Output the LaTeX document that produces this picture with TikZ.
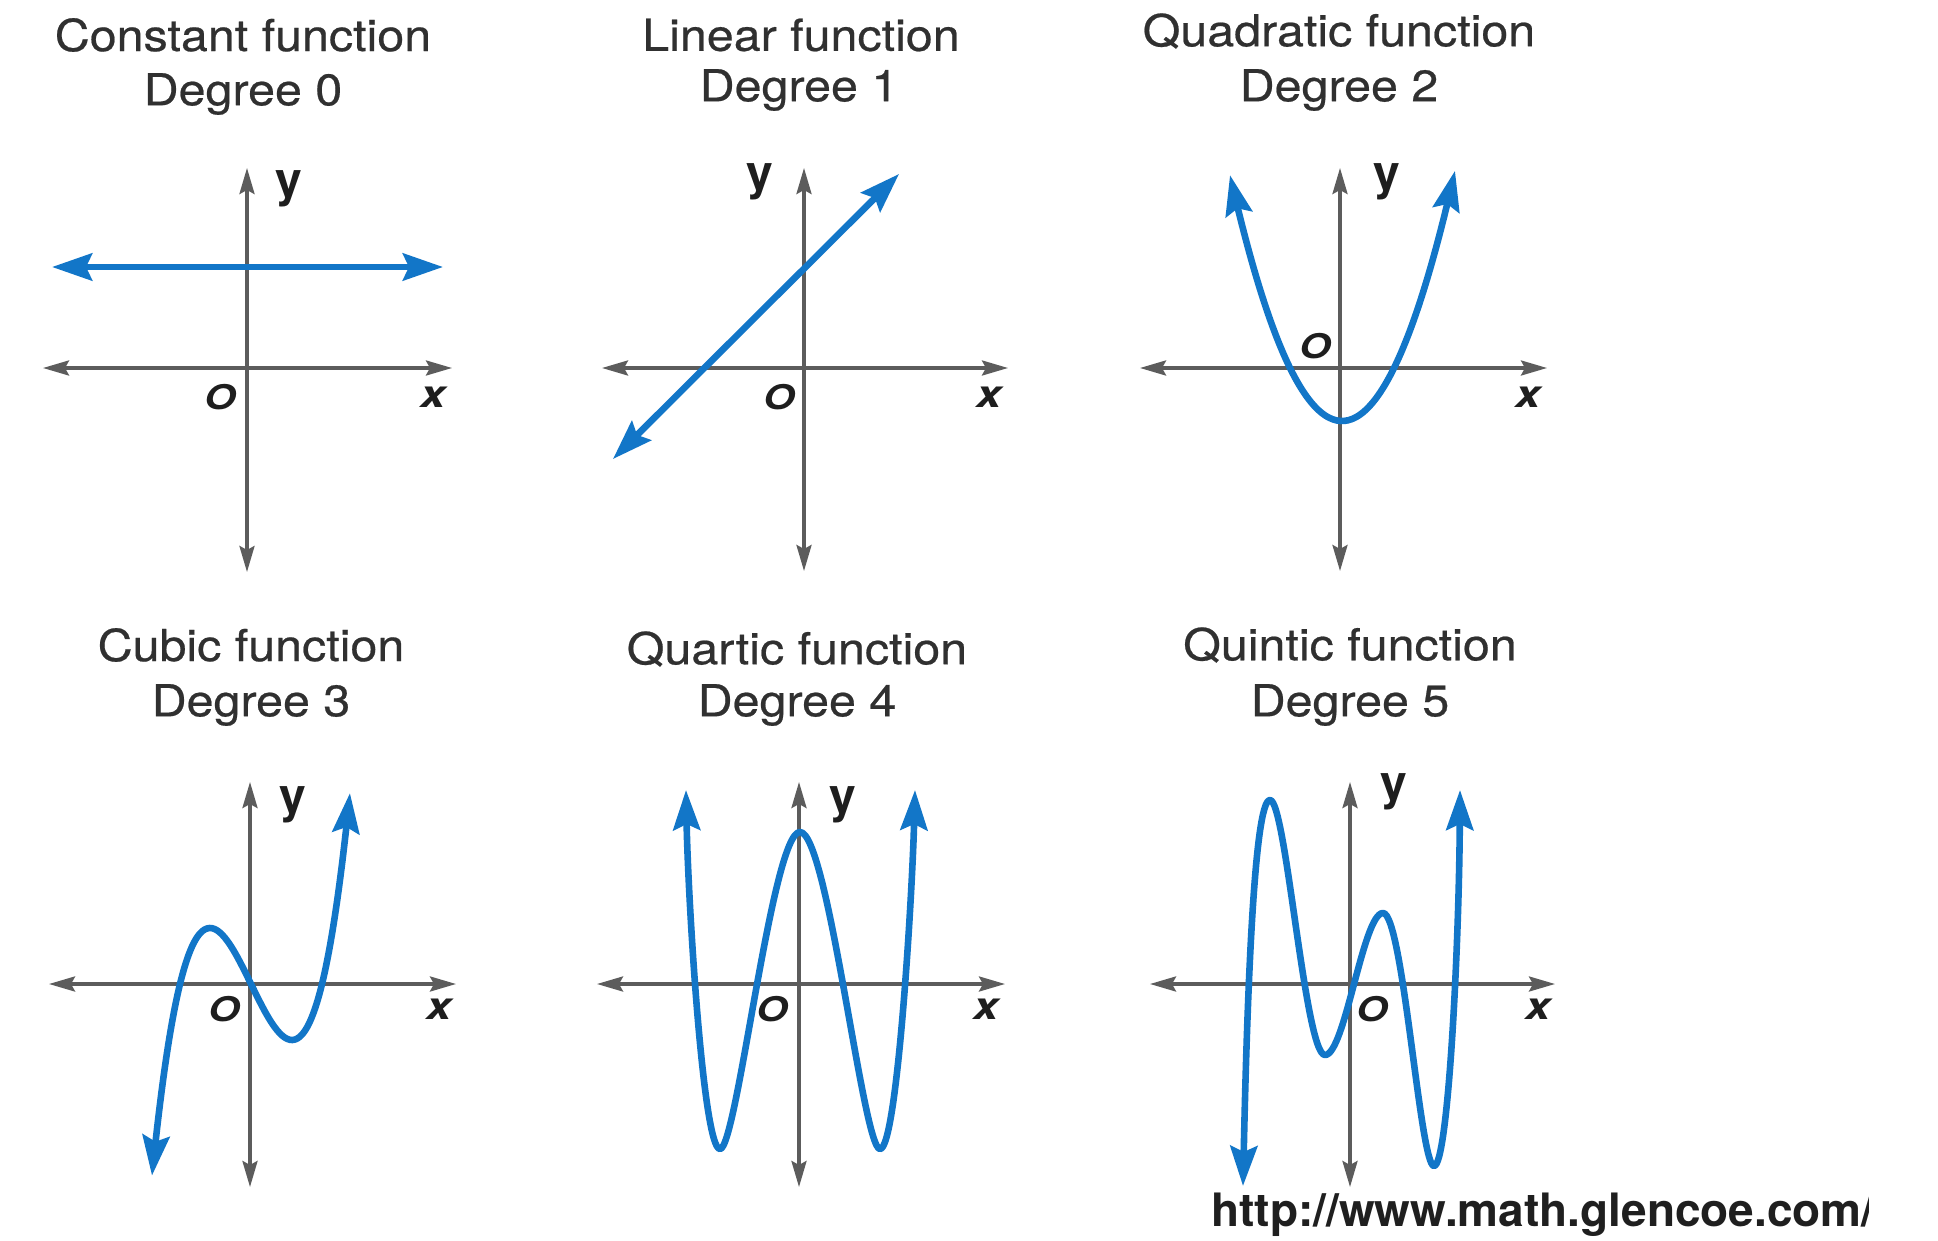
\documentclass[tikz,border=0pt]{standalone}
\usepackage{fontspec}
\setmainfont{TeX Gyre Heros}
\newfontfamily\titlefont{TeX Gyre Heros}[FakeStretch=1.1,FakeBold=0.5]
\newfontfamily\lblfont{TeX Gyre Heros}[FakeStretch=1.2]
\usetikzlibrary{arrows.meta}
\definecolor{curveblue}{RGB}{18,118,200}
\definecolor{axisgray}{RGB}{92,92,92}
\definecolor{textgray}{RGB}{48,48,48}
\definecolor{lblgray}{RGB}{30,30,30}
\begin{document}
\begin{tikzpicture}[x=0.5pt,y=-0.5pt,
  axis/.style={draw=axisgray,line width=1.7pt,
    {Stealth[length=13pt,width=7.5pt,inset=2pt]}-{Stealth[length=13pt,width=7.5pt,inset=2pt]}},
  curve/.style={draw=curveblue,line width=3.3pt,line join=round,
    {Stealth[length=20pt,width=13.5pt,inset=3pt]}-{Stealth[length=20pt,width=13.5pt,inset=3pt]}},
  ttl/.style={font=\titlefont\fontsize{22}{26}\selectfont,text=textgray,inner sep=0pt},
  ylbl/.style={font=\bfseries\fontsize{24}{28}\selectfont,text=lblgray,inner sep=0pt},
  olbl/.style={font=\lblfont\bfseries\itshape\fontsize{17}{20}\selectfont,text=lblgray,inner sep=0pt},
  xlbl/.style={font=\lblfont\bfseries\itshape\fontsize{19}{22}\selectfont,text=lblgray,inner sep=0pt},
  url/.style={font=\bfseries\fontsize{23}{26}\selectfont,text=black!88,inner sep=0pt}
]
\fill[white] (0,0) rectangle (1938,1241);
\useasboundingbox (0,0) rectangle (1938,1241);

% ---------- titles ----------
\node[ttl] (t1a) at (243,35) {Constant function};
\node[ttl] (t1b) at (243,94) {Degree 0};
\node[ttl] (t2a) at (801,35) {Linear function};
\node[ttl] (t2b) at (799,90) {Degree 1};
\node[ttl] (t3a) at (1339,31) {Quadratic function};
\node[ttl] (t3b) at (1339,90) {Degree 2};
\node[ttl] (t4a) at (251,645) {Cubic function};
\node[ttl] (t4b) at (251,705) {Degree 3};
\node[ttl] (t5a) at (797,649) {Quartic function};
\node[ttl] (t5b) at (797,705) {Degree 4};
\node[ttl] (t6a) at (1350,645) {Quintic function};
\node[ttl] (t6b) at (1350,705) {Degree 5};

% ---------- axes ----------
\coordinate (x1l) at (43,368);  \coordinate (x1r) at (452,368);
\coordinate (y1t) at (247,168); \coordinate (y1b) at (247,572);
\coordinate (x2l) at (602,368); \coordinate (x2r) at (1008,368);
\coordinate (y2t) at (804,168); \coordinate (y2b) at (804,571);
\coordinate (x3l) at (1140,368);\coordinate (x3r) at (1547,368);
\coordinate (y3t) at (1340,168);\coordinate (y3b) at (1340,571);
\coordinate (x4l) at (49,984);  \coordinate (x4r) at (456,984);
\coordinate (y4t) at (250,782); \coordinate (y4b) at (250,1187);
\coordinate (x5l) at (597,984); \coordinate (x5r) at (1005,984);
\coordinate (y5t) at (799,782); \coordinate (y5b) at (799,1187);
\coordinate (x6l) at (1150,984);\coordinate (x6r) at (1555,984);
\coordinate (y6t) at (1350,782);\coordinate (y6b) at (1350,1187);
\foreach \i in {1,...,6}{
  \draw[axis] (x\i l) -- (x\i r);
  \draw[axis] (y\i b) -- (y\i t);
}

% ---------- axis labels ----------
\node[ylbl] (ly1) at (289,189) {y};
\node[olbl] (lo1) at (220,397) {O};
\node[xlbl] (lx1) at (433,397) {x};
\node[ylbl] (ly2) at (760,182) {y};
\node[olbl] (lo2) at (779,397) {O};
\node[xlbl] (lx2) at (989,397) {x};
\node[ylbl] (ly3) at (1387,182) {y};
\node[olbl] (lo3) at (1315,346) {O};
\node[xlbl] (lx3) at (1528,397) {x};
\node[ylbl] (ly4) at (293,805) {y};
\node[olbl] (lo4) at (224,1009) {O};
\node[xlbl] (lx4) at (439,1009) {x};
\node[ylbl] (ly5) at (843,805) {y};
\node[olbl] (lo5) at (772,1009) {O};
\node[xlbl] (lx5) at (986,1009) {x};
\node[ylbl] (ly6) at (1394,792) {y};
\node[olbl] (lo6) at (1372,1009) {O};
\node[xlbl] (lx6) at (1538,1009) {x};

% ---------- curves ----------
% constant
\draw[curve] (52,267) -- (443,267);
% linear
\draw[curve] (613,459) -- (899,174);
% quadratic
\draw[curve] plot[domain=-1.12:1.13,samples=60,smooth] ({1342+100*\x},{421-196*\x*\x});
% cubic
\draw[curve] plot[domain=-0.99:0.99,samples=80,smooth] ({251+100*\x},{984-406.5*\x*(\x*\x-0.5041)});
% quartic
\draw[curve] (686,790) .. controls (688,900) and (703,1149) .. (720,1149)
  .. controls (737,1149) and (772,832) .. (800,832)
  .. controls (828,832) and (863,1149) .. (880,1149)
  .. controls (897,1149) and (912,900) .. (915,790);
% quintic
\draw[curve] (1243,1186) .. controls (1247,1000) and (1254,800) .. (1270,800)
  .. controls (1286,800) and (1305,1055) .. (1325,1055)
  .. controls (1345,1055) and (1363,913) .. (1383,913)
  .. controls (1403,913) and (1420,1166) .. (1434,1166)
  .. controls (1448,1166) and (1459,950) .. (1460,790);

% ---------- source ----------
\begin{scope}
\clip (0,1160) rectangle (1868,1241);
\node[url,anchor=west] (src) at (1211,1215) {http://www.math.glencoe.com/};
\end{scope}
\end{tikzpicture}
\end{document}
